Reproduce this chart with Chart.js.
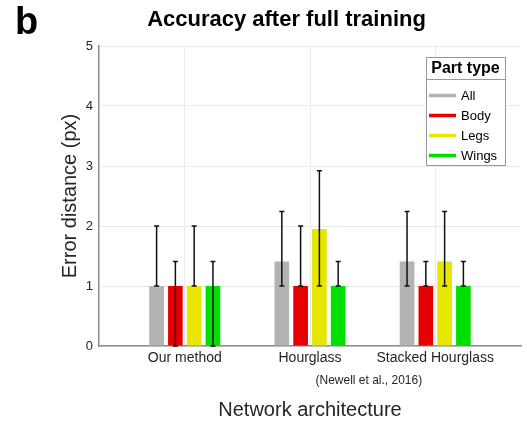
<!DOCTYPE html>
<html>
<head>
<meta charset="utf-8">
<script src="https://cdn.jsdelivr.net/npm/chart.js@4.4.0/dist/chart.umd.min.js"></script>
<style>
  html, body { margin: 0; padding: 0; background: #ffffff; }
  #wrap { width: 527px; height: 425px; position: relative; }
</style>
</head>
<body>
<div id="wrap"><canvas id="c" width="527" height="425"></canvas></div>
<script>
// ---- data ----
const categories = ['Our method', 'Hourglass', 'Stacked Hourglass'];
const seriesNames = ['All', 'Body', 'Legs', 'Wings'];
const allValues   = [1.00, 1.41, 1.41];
const bodyValues  = [1.00, 1.00, 1.00];
const legsValues  = [1.00, 1.95, 1.41];
const wingsValues = [1.00, 1.00, 1.00];
const allLow   = [1.00, 1.00, 1.00];
const allHigh  = [2.00, 2.24, 2.24];
const bodyLow  = [0.00, 1.00, 1.00];
const bodyHigh = [1.41, 2.00, 1.41];
const legsLow  = [1.00, 1.00, 1.00];
const legsHigh = [2.00, 2.92, 2.24];
const wingsLow  = [0.00, 1.00, 1.00];
const wingsHigh = [1.41, 1.41, 1.41];
const yTicks = [0, 1, 2, 3, 4, 5];
const subLabel = '(Newell et al., 2016)';

const colors = ['#b3b3b3', '#e60000', '#e6e600', '#00e000'];
const values = [allValues, bodyValues, legsValues, wingsValues];
const lows = [allLow, bodyLow, legsLow, wingsLow];
const highs = [allHigh, bodyHigh, legsHigh, wingsHigh];

Chart.defaults.font.family = "'Liberation Sans', Arial, Helvetica, sans-serif";
Chart.defaults.color = '#262626';

const datasets = seriesNames.map((name, s) => ({
  label: name,
  data: values[s].map((v, i) => ({ x: i + 1, y: v })),
  errLow: lows[s],
  errHigh: highs[s],
  backgroundColor: colors[s],
  borderWidth: 0,
  barPercentage: 0.78,
  categoryPercentage: 0.6
}));

const extras = {
  id: 'extras',
  afterDatasetsDraw(chart) {
    const ctx = chart.ctx;
    const ys = chart.scales.y;
    ctx.save();
    ctx.strokeStyle = '#111111';
    ctx.lineWidth = 1.5;
    chart.data.datasets.forEach((ds, di) => {
      const meta = chart.getDatasetMeta(di);
      meta.data.forEach((bar, j) => {
        const x = bar.x;
        const yl = ys.getPixelForValue(ds.errLow[j]);
        const yh = ys.getPixelForValue(ds.errHigh[j]);
        ctx.beginPath();
        ctx.moveTo(x, yl); ctx.lineTo(x, yh);
        ctx.moveTo(x - 2.5, yl); ctx.lineTo(x + 2.5, yl);
        ctx.moveTo(x - 2.5, yh); ctx.lineTo(x + 2.5, yh);
        ctx.stroke();
      });
    });
    ctx.restore();
  },
  afterDraw(chart) {
    const ctx = chart.ctx;
    const area = chart.chartArea;
    const xs = chart.scales.x;
    ctx.save();
    // panel letter
    ctx.fillStyle = '#000';
    ctx.font = "bold 38px 'Liberation Sans', Arial, sans-serif";
    ctx.textAlign = 'left';
    ctx.textBaseline = 'alphabetic';
    ctx.fillText('b', 15, 34);
    // sub label under Hourglass
    ctx.fillStyle = '#262626';
    ctx.font = "12px 'Liberation Sans', Arial, sans-serif";
    ctx.textAlign = 'center';
    ctx.textBaseline = 'middle';
    ctx.fillText(subLabel, xs.getPixelForValue(2.47), 381);
    // legend
    const bx = area.right - 95, by = area.top + 11, bw = 79, bh = 108;
    ctx.fillStyle = '#ffffff';
    ctx.fillRect(bx, by, bw, bh);
    ctx.strokeStyle = '#999999';
    ctx.lineWidth = 1;
    ctx.strokeRect(bx + 0.5, by + 0.5, bw, bh);
    ctx.beginPath();
    ctx.moveTo(bx, by + 22.5); ctx.lineTo(bx + bw, by + 22.5);
    ctx.stroke();
    ctx.fillStyle = '#000';
    ctx.font = "bold 16px 'Liberation Sans', Arial, sans-serif";
    ctx.textAlign = 'center';
    ctx.fillText('Part type', bx + bw / 2, by + 12);
    ctx.font = "13px 'Liberation Sans', Arial, sans-serif";
    ctx.textAlign = 'left';
    chart.data.datasets.forEach((ds, i) => {
      const yy = by + 38.5 + i * 20;
      ctx.strokeStyle = ds.backgroundColor;
      ctx.lineWidth = 3.5;
      ctx.beginPath();
      ctx.moveTo(bx + 3, yy); ctx.lineTo(bx + 30, yy);
      ctx.stroke();
      ctx.fillStyle = '#000';
      ctx.fillText(ds.label, bx + 35, yy + 1);
    });
    ctx.restore();
  }
};

new Chart(document.getElementById('c'), {
  type: 'bar',
  data: { datasets },
  plugins: [extras],
  options: {
    responsive: false,
    animation: false,
    layout: { padding: { left: 52, right: 6, top: 0, bottom: 0 } },
    plugins: {
      legend: { display: false },
      tooltip: { enabled: false },
      title: {
        display: true,
        text: 'Accuracy after full training',
        color: '#000',
        font: { size: 22, weight: 'bold' },
        padding: { top: 7, bottom: 12.6 }
      }
    },
    scales: {
      x: {
        type: 'linear',
        min: 0.315,
        max: 3.685,
        offset: false,
        afterFit(scale) { scale.height = 79; },
        grid: { color: '#ebebeb', drawTicks: false, offset: false },
        border: { display: true, color: '#8c8c8c', width: 1.5 },
        ticks: {
          stepSize: 1,
          includeBounds: false,
          autoSkip: false,
          maxRotation: 0,
          padding: 4,
          color: '#262626',
          font: { size: 14 },
          callback: (v) => (Number.isInteger(v) && categories[v - 1]) ? categories[v - 1] : ''
        },
        title: {
          display: true,
          text: 'Network architecture',
          color: '#262626',
          font: { size: 20 },
          padding: { top: 0, bottom: 3 }
        }
      },
      y: {
        min: yTicks[0],
        max: yTicks[yTicks.length - 1],
        afterFit(scale) { scale.width = 47; },
        grid: { color: '#ebebeb', drawTicks: false },
        border: { display: true, color: '#8c8c8c', width: 1.5 },
        ticks: {
          stepSize: 1,
          padding: 6,
          color: '#262626',
          font: { size: 13 }
        },
        title: {
          display: true,
          text: 'Error distance (px)',
          color: '#262626',
          font: { size: 20 },
          padding: { top: 6, bottom: 0 }
        }
      }
    }
  }
});
</script>
</body>
</html>
